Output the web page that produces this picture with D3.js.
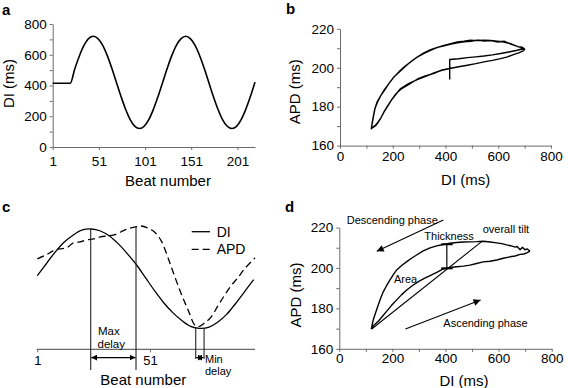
<!DOCTYPE html>
<html><head><meta charset="utf-8">
<script src="https://cdn.jsdelivr.net/npm/d3@7"></script>
<style>body{margin:0;background:#fff}svg{display:block;background:#fff}</style>
</head><body><svg id="chart" width="568" height="388"></svg>
<script>
// ---------------- DATA ----------------
// Panel a: DI vs beat number
const aBeat = [1,20,25,30,35,40,45,50,55,60,65,70,75,80,85,90,95,100,105,110,115,120,125,130,135,140,145,150,155,160,165,170,175,180,185,190,195,200,205,210,215,220];
const aDI   = [415,415,510,594,662,706,720,705,662,596,512,420,328,244,177,134,120,135,178,245,328,420,512,596,663,705,720,705,662,595,512,420,327,244,177,135,120,134,178,245,328,422];
const aYTicks = [0,200,400,600,800];
const aXTicks = [1,51,101,151,201];

// Panel b: APD vs DI restitution path (transient + two cycles)
const bDI = [416,416,450,483,515,546,578,609,640,672,690,
  699,687,672,647,621,596,571,546,520,495,470,445,420,394,369,344,318,293,268,243,224,205,186,167,154,141,132,126,122,119,
  124,135,145,154,166,179,195,212,230,260,293,325,356,386,416,450,483,515,546,578,609,635,660,680,696,
  700,690,675,650,622,598,572,547,522,496,471,446,421,395,370,345,319,294,269,244,225,206,187,168,155,142,133,127,122,119,
  124,135,146,155,167,180,196,213,231,261,294,326,357,387,420];
const bAPD = [194.0,204.2,204.6,205.2,205.6,206.0,206.6,207.3,208.1,209.0,209.6,
  209.3,210.2,211.0,212.4,213.2,213.6,214.0,214.1,213.9,214.1,213.6,213.2,212.4,211.5,210.4,209.3,207.6,205.5,203.0,200.4,198.0,195.3,192.0,188.5,185.6,182.5,179.0,174.8,171.5,168.8,
  169.2,170.2,172.0,174.0,177.0,179.9,183.4,186.4,189.3,191.8,193.9,195.6,197.3,198.7,199.6,200.5,201.3,202.1,203.0,203.8,204.7,205.6,206.9,207.8,208.8,
  209.6,210.6,210.8,212.0,213.6,213.2,213.9,213.7,214.2,213.6,213.3,212.8,212.2,211.2,210.5,209.0,207.4,205.6,203.2,200.2,197.8,195.5,192.2,188.3,185.8,182.3,179.2,175.0,171.3,168.6,
  169.4,170.5,172.4,174.3,177.4,180.3,183.6,186.8,189.0,191.5,194.2,195.9,197.1,198.9,199.8];
const apdTicks = [160,180,200,220];
const apdMinor = [170,190,210];
const diTicks = [0,200,400,600,800];
const diMinor = [100,300,500,700];

// Panel c: schematic DI (solid) and APD (dashed), normalised
const cBeat = [1,5,9,13,17,21,25,29,33,37,41,45,49,53,57,61,65,69,73,77,81,85,89,93,97];
const cDI   = [0.53,0.65,0.77,0.87,0.94,0.99,1.00,0.98,0.93,0.85,0.75,0.64,0.51,0.38,0.26,0.16,0.08,0.02,0.00,0.01,0.06,0.14,0.25,0.37,0.49];
const cAPDBeat = [1,5,8,11,14,17,20,23,26,29,32,35,38,41,44,47,50,53,56,59,62,65,68,71,73,75,78,81,84,87,90,93,97.6];
const cAPD     = [0.70,0.74,0.78,0.80,0.81,0.86,0.87,0.89,0.90,0.92,0.93,0.94,0.97,1.00,1.02,1.03,1.01,0.97,0.88,0.71,0.52,0.34,0.18,0.03,0.02,0.05,0.11,0.22,0.33,0.43,0.51,0.60,0.71];
const cXTicks = [1,51];
const cMaxDelay = [24.7, 44.8];   // beats of DI peak and APD peak
const cMinDelay = [71.3, 75.0];   // beats of APD min and DI min

// Panel d: single loop with annotations
const dDI = [718,708,699,690,681,670,662,645,630,612,593,568,542,517,492,467,442,417,392,367,342,316,291,272,254,235,216,203,191,178,166,156,147,137,128,124,121,
  130,147,162,178,197,216,235,254,276,298,320,342,367,392,417,442,467,492,517,542,568,593,618,643,662,681,695,708,718];
const dAPD = [208.3,209.4,209.0,210.2,209.0,210.6,210.3,211.0,211.4,212.0,212.4,212.8,213.2,213.0,212.9,212.8,212.6,212.2,211.6,210.9,209.9,208.4,206.4,204.8,203.1,201.2,199.0,196.6,194.1,191.2,188.3,185.1,181.8,178.0,174.4,172.0,170.0,
  171.6,173.6,176.0,178.5,181.5,184.2,186.8,189.1,191.3,193.2,194.8,196.2,197.8,199.5,200.2,200.6,200.9,201.4,202.2,203.0,203.3,203.9,204.8,205.5,205.9,206.7,206.9,207.6,208.3];
const dTilt = [[122,169.8],[536,213.0]];
const dThick = [405, 199.8, 211.7];
const dDescArrow = [[392,223.7],[141,208.2]];
const dAscArrow = [[249,169.8],[532,184.1]];

// ---------------- DRAWING ----------------
const FONT = '"Liberation Sans", Arial, Helvetica, sans-serif';
const AX = "#6b6b6b";
const svg = d3.select("#chart");
svg.append("rect").attr("width",568).attr("height",388).attr("fill","#fff");

const defs = svg.append("defs");
function marker(id, w, h){
  defs.append("marker").attr("id",id).attr("viewBox","0 0 10 10").attr("refX",10).attr("refY",5)
    .attr("markerWidth",w).attr("markerHeight",h).attr("markerUnits","userSpaceOnUse").attr("orient","auto-start-reverse")
    .append("path").attr("d","M0,0L10,5L0,10Z").attr("fill","#000");
}
marker("arr",9,7);
marker("arrS",6,6);

function axis(orient, scale, pos, majors, minors, tick, pad, fs){
  const mk = orient==="left" ? d3.axisLeft : d3.axisBottom;
  const tr = orient==="left" ? `translate(${pos},0)` : `translate(0,${pos})`;
  const g = svg.append("g").attr("transform",tr)
    .call(mk(scale).tickValues(majors).tickSizeOuter(0).tickSizeInner(tick).tickPadding(pad));
  g.attr("font-family",FONT).attr("font-size",fs||13.5);
  g.select(".domain").attr("stroke",AX);
  g.selectAll(".tick line").attr("stroke",AX);
  g.selectAll(".tick text").attr("fill","#000");
  if (minors){
    const m = svg.append("g").attr("transform",tr)
      .call(mk(scale).tickValues(minors).tickFormat("").tickSizeOuter(0).tickSizeInner(tick));
    m.select(".domain").remove();
    m.selectAll(".tick line").attr("stroke",AX);
  }
  return g;
}
function text(x,y,s,opt={}){
  const t = svg.append("text").attr("x",x).attr("y",y).text(s).attr("font-family",FONT)
    .attr("font-size",opt.size||15).attr("fill","#000");
  if (opt.anchor) t.attr("text-anchor",opt.anchor);
  if (opt.bold) t.attr("font-weight","bold");
  if (opt.rot) t.attr("transform",`rotate(-90,${x},${y})`);
  return t;
}

// ----- Panel a -----
const ax = d3.scaleLinear().domain([1,220]).range([52.7,255]);
const ay = d3.scaleLinear().domain([0,800]).range([147,24]);
axis("left", ay, 52.7, aYTicks, [100,300,500,700], 3, 3);
axis("bottom", ax, 147, aXTicks, null, 3, 6);
svg.append("path").datum(aBeat.map((b,i)=>[b,aDI[i]]))
  .attr("d", d3.line().x(d=>ax(d[0])).y(d=>ay(d[1])).curve(d3.curveMonotoneX))
  .attr("fill","none").attr("stroke","#000").attr("stroke-width",1.6);
text(2,15,"a",{bold:true});
text(168,186,"Beat number",{anchor:"middle"});
text(14,83.5,"DI (ms)",{anchor:"middle",rot:true});

// ----- Panel b -----
const bx = d3.scaleLinear().domain([0,800]).range([340,551]);
const by = d3.scaleLinear().domain([160,220]).range([145.6,28.8]);
axis("left", by, 340, apdTicks, apdMinor, 3, 3);
axis("bottom", bx, 145.6, diTicks, diMinor, 3, 3);
svg.append("path").datum(bDI.map((d,i)=>[d,bAPD[i]]))
  .attr("d", d3.line().x(d=>bx(d[0])).y(d=>by(d[1])).curve(d3.curveLinear))
  .attr("fill","none").attr("stroke","#000").attr("stroke-width",1.4).attr("stroke-linejoin","round");
text(286,14,"b",{bold:true});
text(465.7,185,"DI (ms)",{anchor:"middle"});
text(300.5,91.7,"APD (ms)",{anchor:"middle",rot:true});

// ----- Panel c -----
const cx = d3.scaleLinear().domain([1,97.6]).range([37.3,255]);
const cy = d3.scaleLinear().domain([0,1]).range([328.3,229]);
const cAx = axis("bottom", cx, 349.3, cXTicks, null, 3, 3, 13);
cAx.select(".domain").attr("d",`M${cx(1)-0.6},0H${cx(97.6)}`).attr("stroke","#444");
const cLine = d3.line().x(d=>cx(d[0])).y(d=>cy(d[1])).curve(d3.curveCatmullRom);
svg.append("path").datum(cBeat.map((b,i)=>[b,cDI[i]])).attr("d",cLine)
  .attr("fill","none").attr("stroke","#000").attr("stroke-width",1.3);
svg.append("path").datum(cAPDBeat.map((b,i)=>[b,cAPD[i]])).attr("d",cLine)
  .attr("fill","none").attr("stroke","#000").attr("stroke-width",1.3).attr("stroke-dasharray","7,4");
// max delay
const cTopMax = [1.0, 1.02];
cMaxDelay.forEach((b,i)=>{
  svg.append("line").attr("x1",cx(b)).attr("x2",cx(b)).attr("y1",cy(cTopMax[i])).attr("y2",cy(-0.42))
    .attr("stroke","#222").attr("stroke-width",1.1);
});
svg.append("line").attr("x1",cx(cMaxDelay[0])+0.5).attr("x2",cx(cMaxDelay[1])-0.5).attr("y1",cy(-0.295)).attr("y2",cy(-0.295))
  .attr("stroke","#000").attr("stroke-width",1.1).attr("marker-start","url(#arrS)").attr("marker-end","url(#arrS)");
// min delay
cMinDelay.forEach(b=>{
  svg.append("line").attr("x1",cx(b)).attr("x2",cx(b)).attr("y1",cy(0)).attr("y2",cy(-0.31))
    .attr("stroke","#222").attr("stroke-width",1.1);
});
svg.append("line").attr("x1",cx(cMinDelay[0])+0.5).attr("x2",cx(cMinDelay[1])-0.5).attr("y1",cy(-0.295)).attr("y2",cy(-0.295))
  .attr("stroke","#000").attr("stroke-width",1.1).attr("marker-start","url(#arrS)").attr("marker-end","url(#arrS)");
text(98,335,"Max",{size:11.5});
text(97.5,347.7,"delay",{size:11.5});
text(205,362.5,"Min",{size:11});
text(205,374.5,"delay",{size:11});
// legend
svg.append("line").attr("x1",191.7).attr("x2",210).attr("y1",231.7).attr("y2",231.7).attr("stroke","#000").attr("stroke-width",1.3);
svg.append("line").attr("x1",191.7).attr("x2",210).attr("y1",249.3).attr("y2",249.3).attr("stroke","#000").attr("stroke-width",1.3).attr("stroke-dasharray","7,4");
text(216.7,236.5,"DI",{size:14});
text(216.7,254,"APD",{size:14});
text(2,212,"c",{bold:true});
text(143.3,385,"Beat number",{anchor:"middle"});

// ----- Panel d -----
const dx = d3.scaleLinear().domain([0,800]).range([339.3,551.7]);
const dy = d3.scaleLinear().domain([160,220]).range([348.8,227.5]);
axis("left", dy, 339.3, apdTicks, apdMinor, 3, 3);
axis("bottom", dx, 348.8, diTicks, diMinor, 3, 2);
const dLine = d3.line().x(d=>dx(d[0])).y(d=>dy(d[1]));
svg.append("path").datum(dDI.map((d,i)=>[d,dAPD[i]])).attr("d",dLine)
  .attr("fill","none").attr("stroke","#000").attr("stroke-width",1.4).attr("stroke-linejoin","round");
svg.append("path").datum(dTilt).attr("d",dLine).attr("stroke","#000").attr("stroke-width",1.1).attr("fill","none");
svg.append("line").attr("x1",dx(dThick[0])).attr("x2",dx(dThick[0])).attr("y1",dy(dThick[1])).attr("y2",dy(dThick[2]))
  .attr("stroke","#000").attr("stroke-width",1.2);
[dThick[1],dThick[2]].forEach(v=>{
  svg.append("line").attr("x1",dx(dThick[0]-21)).attr("x2",dx(dThick[0]+22)).attr("y1",dy(v)).attr("y2",dy(v))
    .attr("stroke","#000").attr("stroke-width",2);
});
svg.append("path").datum(dDescArrow).attr("d",dLine).attr("stroke","#000").attr("stroke-width",1.1).attr("fill","none").attr("marker-end","url(#arr)");
svg.append("path").datum(dAscArrow).attr("d",dLine).attr("stroke","#000").attr("stroke-width",1.1).attr("fill","none").attr("marker-end","url(#arr)");
text(346.7,223.7,"Descending phase",{size:11});
text(482.7,232.7,"overall tilt",{size:11});
text(424.3,240.3,"Thickness",{size:11});
text(394,282.7,"Area",{size:11});
text(443.3,326.7,"Ascending phase",{size:11});
text(285,212,"d",{bold:true});
text(464,385.5,"DI (ms)",{anchor:"middle"});
text(300.5,295,"APD (ms)",{anchor:"middle",rot:true});
</script></body></html>
